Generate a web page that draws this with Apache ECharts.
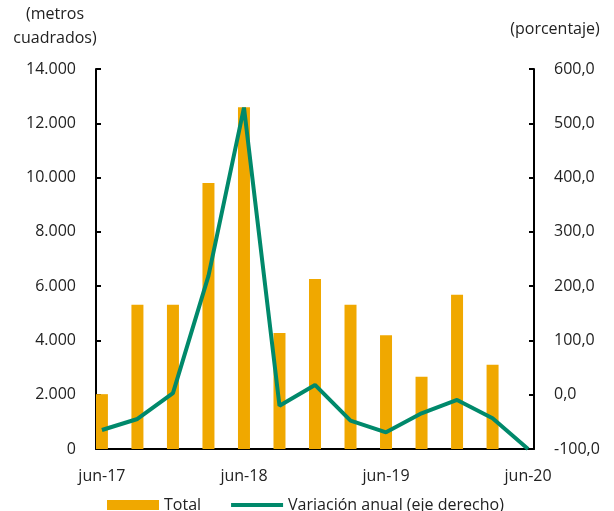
<!DOCTYPE html>
<html>
<head>
<meta charset="utf-8">
<script src="https://cdn.jsdelivr.net/npm/echarts@6/dist/echarts.min.js"></script>
<style>
html,body{margin:0;padding:0;background:#fff;}
#c{width:614px;height:511px;}
</style>
</head>
<body>
<div id="c"></div>
<script>
// Quarterly observations
const quarters = ['jun-17','sep-17','dic-17','mar-18','jun-18','sep-18','dic-18','mar-19','jun-19','sep-19','dic-19','mar-20','jun-20'];
const total = [2020, 5310, 5310, 9800, 12590, 4270, 6260, 5310, 4190, 2660, 5680, 3100, 0];
const variacion = [-65, -44.7, 3, 219, 529, -20.2, 18, -47.8, -69.2, -34.2, -9.7, -43.4, -100];
const tickLabels = ['jun-17','jun-18','jun-19','jun-20'];
const leftTicks = [0, 2000, 4000, 6000, 8000, 10000, 12000, 14000];
const rightTicks = [-100, 0, 100, 200, 300, 400, 500, 600];

// Monthly date axis (bars placed on quarter months)
const monthNames = ['jun','jul','ago','sep','oct','nov','dic','ene','feb','mar','abr','may'];
const months = [];
for (let i = 0; i < 37; i++) {
  const yr = 17 + Math.floor((i + 5) / 12);
  months.push(monthNames[i % 12] + '-' + yr + '#' + i);
}
const barData = months.map(() => null);
const lineData = months.map(() => null);
quarters.forEach((q, k) => { barData[k * 3] = total[k]; lineData[k * 3] = variacion[k]; });

const FONT = 'Open Sans';
const chart = echarts.init(document.getElementById('c'));
chart.setOption({
  animation: false,
  textStyle: { fontFamily: FONT },
  grid: { left: 96, right: 80, top: 69, bottom: 62 },
  xAxis: {
    type: 'category',
    data: months,
    boundaryGap: true,
    axisLine: { lineStyle: { color: '#000', width: 2 } },
    axisTick: { inside: true, length: 5, interval: 11, lineStyle: { color: '#000', width: 2 } },
    axisLabel: {
      interval: 11, margin: 19, color: '#222', fontSize: 16, fontFamily: FONT,
      formatter: (v, idx) => tickLabels[idx / 12]
    },
    splitLine: { show: false }
  },
  yAxis: [
    {
      type: 'value', min: leftTicks[0], max: leftTicks[leftTicks.length - 1], interval: 2000,
      axisLine: { show: true, lineStyle: { color: '#000', width: 2 } },
      axisTick: { show: true, inside: true, length: 5, lineStyle: { color: '#000', width: 2 } },
      axisLabel: {
        margin: 20, color: '#222', fontSize: 16, fontFamily: FONT, align: 'right',
        formatter: v => v === 0 ? '0' : v.toLocaleString('de-DE')
      },
      splitLine: { show: false }
    },
    {
      type: 'value', min: rightTicks[0], max: rightTicks[rightTicks.length - 1], interval: 100,
      axisLine: { show: true, lineStyle: { color: '#000', width: 2 } },
      axisTick: { show: true, inside: true, length: 5, lineStyle: { color: '#000', width: 2 } },
      axisLabel: {
        margin: 20, color: '#222', fontSize: 16, fontFamily: FONT,
        formatter: v => v.toFixed(1).replace('.', ',')
      },
      splitLine: { show: false }
    }
  ],
  legend: {
    left: 102, top: 492,
    itemWidth: 52, itemHeight: 10, itemGap: 28,
    textStyle: { fontSize: 16, color: '#222', fontFamily: FONT },
    data: [
      { name: 'Total', icon: 'rect' },
      { name: 'Variación anual (eje derecho)', itemStyle: { opacity: 0 }, lineStyle: { width: 4 } }
    ]
  },
  graphic: [
    { type: 'text', x: 55, y: 6, style: { text: '(metros', fontSize: 16, fontFamily: FONT, fill: '#222', align: 'center' } },
    { type: 'text', x: 55, y: 30, style: { text: 'cuadrados)', fontSize: 16, fontFamily: FONT, fill: '#222', align: 'center' } },
    { type: 'text', x: 555, y: 21, style: { text: '(porcentaje)', fontSize: 16, fontFamily: FONT, fill: '#222', align: 'center' } }
  ],
  series: [
    {
      name: 'Total', type: 'bar', data: barData, barWidth: 12,
      itemStyle: { color: '#F0A800' }
    },
    {
      name: 'Variación anual (eje derecho)', type: 'line', yAxisIndex: 1,
      data: lineData, connectNulls: true, symbol: 'none',
      lineStyle: { color: '#00896B', width: 4 },
      itemStyle: { color: '#00896B' }
    }
  ]
});
</script>
</body>
</html>
